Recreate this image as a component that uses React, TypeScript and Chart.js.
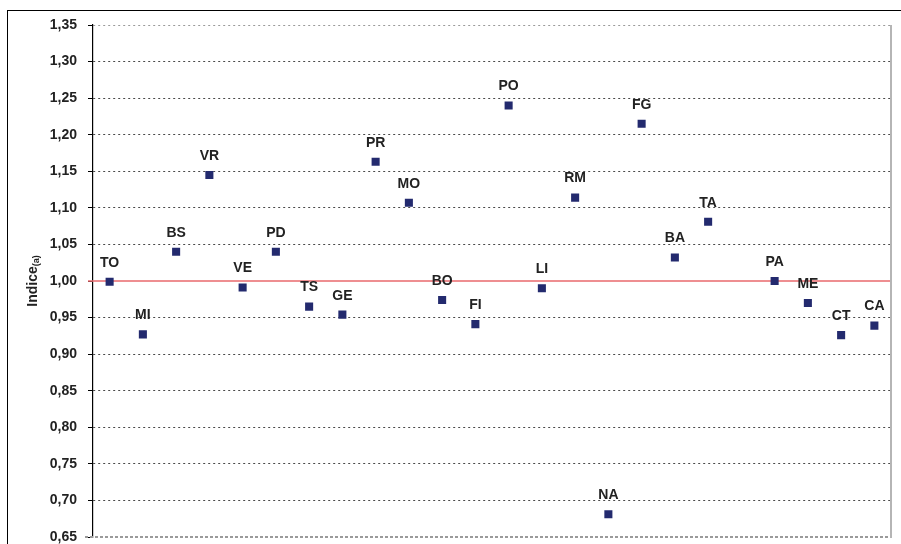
import React, { useEffect, useRef } from "react";
import { Chart, registerables } from "chart.js";

Chart.register(...registerables);

const categories: string[] = ["TO", "MI", "BS", "VR", "VE", "PD", "TS", "GE", "PR", "MO", "BO", "FI", "PO", "LI", "RM", "NA", "FG", "BA", "TA", "", "PA", "ME", "CT", "CA"];
const indexValues: (number | null)[] = [0.999, 0.927, 1.04, 1.145, 0.991, 1.04, 0.965, 0.954, 1.163, 1.107, 0.974, 0.941, 1.24, 0.99, 1.114, 0.681, 1.215, 1.032, 1.081, null, 1.0, 0.97, 0.926, 0.939];
const yMin = 0.65;
const yMax = 1.35;
const yStep = 0.05;
const referenceValue = 1.0;
const yTitleMain = "Indice";
const yTitleSub = "(a)";

const FONT = "'Liberation Sans', Arial, sans-serif";
const near = (a: number, b: number) => Math.abs(a - b) < 1e-6;

const overlayPlugin = {
  id: "overlay",
  beforeDatasetsDraw(chart: any) {
    const { ctx, chartArea, scales } = chart;
    const y = scales.y;
    ctx.save();
    const yr = y.getPixelForValue(referenceValue);
    ctx.strokeStyle = "#e8696c";
    ctx.lineWidth = 1.6;
    ctx.beginPath();
    ctx.moveTo(chartArea.left - 5, yr);
    ctx.lineTo(chartArea.right, yr);
    ctx.stroke();
    const yb = y.getPixelForValue(yMin);
    ctx.strokeStyle = "#9a9a9a";
    ctx.lineWidth = 2;
    ctx.setLineDash([3, 2]);
    ctx.beginPath();
    ctx.moveTo(chartArea.left - 8, yb);
    ctx.lineTo(chartArea.right, yb);
    ctx.stroke();
    ctx.setLineDash([]);
    ctx.strokeStyle = "#b5b5b5";
    ctx.lineWidth = 2;
    ctx.beginPath();
    ctx.moveTo(chartArea.right, chartArea.top);
    ctx.lineTo(chartArea.right, chartArea.bottom + 1);
    ctx.stroke();
    ctx.restore();
  },
  afterDatasetsDraw(chart: any) {
    const { ctx } = chart;
    const meta = chart.getDatasetMeta(0);
    ctx.save();
    ctx.font = `bold 14px ${FONT}`;
    ctx.fillStyle = "#222222";
    ctx.textAlign = "center";
    ctx.textBaseline = "middle";
    meta.data.forEach((pt: any, i: number) => {
      if (indexValues[i] == null) return;
      ctx.fillText(categories[i], pt.x, pt.y - 19);
    });
    const y = chart.scales.y;
    const cy = (y.top + y.bottom) / 2;
    ctx.translate(37, cy);
    ctx.rotate(-Math.PI / 2);
    ctx.textBaseline = "alphabetic";
    ctx.textAlign = "left";
    ctx.font = `bold 14px ${FONT}`;
    const w1 = ctx.measureText(yTitleMain).width;
    ctx.font = `bold 9px ${FONT}`;
    const w2 = ctx.measureText(yTitleSub).width;
    const start = -(w1 + w2) / 2;
    ctx.font = `bold 14px ${FONT}`;
    ctx.fillText(yTitleMain, start, 0);
    ctx.font = `bold 9px ${FONT}`;
    ctx.fillText(yTitleSub, start + w1, 2);
    ctx.restore();
  },
};

export default function App() {
  const ref = useRef<HTMLCanvasElement | null>(null);
  useEffect(() => {
    if (!ref.current) return;
    const chart = new Chart(ref.current, {
      type: "line",
      data: {
        labels: categories,
        datasets: [
          {
            data: indexValues,
            showLine: false,
            pointStyle: "rect",
            pointRadius: 5.7,
            pointHoverRadius: 5.7,
            pointBorderWidth: 0,
            pointBackgroundColor: "#232a6e",
            borderColor: "#232a6e",
            backgroundColor: "#232a6e",
          },
        ],
      },
      options: {
        animation: false,
        responsive: false,
        maintainAspectRatio: false,
        events: [],
        layout: { padding: { left: 0, top: 25, right: 10, bottom: 7 } },
        plugins: { legend: { display: false }, tooltip: { enabled: false }, title: { display: false } },
        scales: {
          x: {
            type: "category",
            display: false,
            offset: true,
          },
          y: {
            min: yMin,
            max: yMax,
            afterFit(scale: any) {
              scale.width = 93;
              scale.paddingTop = 0;
              scale.paddingBottom = 0;
            },
            ticks: {
              stepSize: yStep,
              padding: 11,
              color: "#222222",
              font: { family: FONT, size: 14, weight: "bold" },
              callback: (v: any) => Number(v).toFixed(2).replace(".", ","),
            },
            grid: {
              drawTicks: true,
              tickLength: 5,
              tickColor: "#000000",
              tickWidth: 1,
              lineWidth: 1,
              color: (c: any) => {
                const v = c.tick ? c.tick.value : NaN;
                if (near(v, referenceValue) || near(v, yMin)) return "rgba(0,0,0,0)";
                if (near(v, yMax)) return "#9a9a9a";
                return "#4a4a4a";
              },
            },
            border: { display: true, color: "#000000", width: 1.2, dash: [2, 3] },
          },
        },
      },
      plugins: [overlayPlugin],
    });
    return () => chart.destroy();
  }, []);

  return (
    <div style={{ position: "fixed", left: 0, top: 0, width: 901, height: 544, overflow: "hidden", background: "#ffffff" }}>
      <div style={{ position: "absolute", left: 7, top: 10, width: 1200, height: 1000, borderLeft: "1.5px solid #000", borderTop: "1.5px solid #000" }} />
      <canvas ref={ref} width={901} height={544} style={{ position: "absolute", left: 0, top: 0, width: 901, height: 544 }} />
    </div>
  );
}
